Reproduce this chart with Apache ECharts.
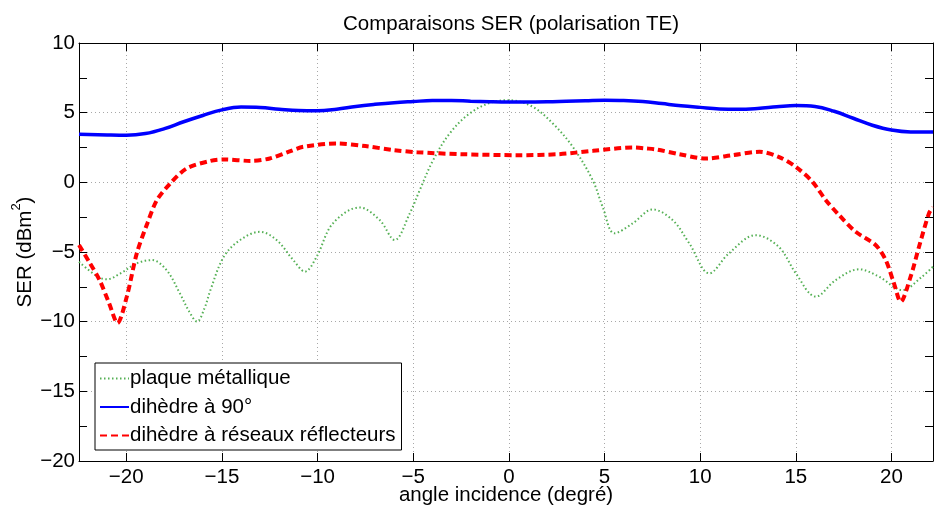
<!DOCTYPE html>
<html>
<head>
<meta charset="utf-8">
<script src="https://cdn.jsdelivr.net/npm/echarts@6/dist/echarts.min.js"></script>
<style>
html,body{margin:0;padding:0;background:#fff;}
#chart{width:934px;height:509px;}
</style>
</head>
<body>
<div id="chart"></div>
<script>
// ---- data ----
const plaqueX = [-22.47,-21.5,-21.0,-20.3,-19.45,-18.66,-17.9,-17.2,-16.7,-16.3,-15.9,-15.6,-14.9,-14.05,-13.0,-12.14,-11.27,-10.66,-10.05,-9.2,-7.8,-6.75,-5.97,-5.18,-4.66,-3.96,-3.1,-2.05,-0.83,0.04,1.26,2.3,3.34,4.38,4.9,5.52,6.47,7.52,8.56,9.43,10.48,11.5,12.9,14.1,15.0,16.04,17.1,18.3,19.35,20.56,21.6,22.17];
const plaqueY = [-5.7,-6.77,-6.96,-6.53,-5.81,-5.58,-6.29,-7.96,-9.3,-10.0,-9.0,-7.73,-5.34,-4.14,-3.55,-4.14,-5.58,-6.41,-5.34,-2.95,-1.8,-2.71,-4.14,-2.23,-0.56,1.59,3.5,4.94,5.77,5.89,5.41,4.22,2.55,0.16,-1.75,-3.66,-2.95,-1.95,-2.71,-4.38,-6.53,-5.1,-3.79,-4.62,-6.53,-8.2,-7.0,-6.24,-6.77,-7.73,-6.77,-6.05];

const dihedreX = [-22.47,-21,-20,-19,-18,-17,-16,-15,-14,-13,-12,-11,-10,-9,-8,-7,-6,-5,-4,-3,-2,-1,0,1,2,3,4,5,6,7,8,9,10,11,12,13,14,15,16,17,18,19,20,21,22.17];
const dihedreY = [3.45,3.4,3.38,3.5,3.85,4.35,4.8,5.2,5.4,5.37,5.25,5.15,5.13,5.25,5.45,5.6,5.72,5.8,5.87,5.88,5.82,5.78,5.76,5.77,5.78,5.82,5.86,5.9,5.88,5.8,5.65,5.5,5.38,5.27,5.24,5.3,5.42,5.52,5.45,5.1,4.6,4.1,3.75,3.62,3.62];

const reseauX = [-22.47,-21.9,-21.4,-20.9,-20.46,-19.97,-19.45,-18.9,-18.4,-17.7,-16.84,-15.6,-14.9,-13.5,-12.5,-11.5,-10.75,-9.0,-7.5,-6.0,-4.8,-2.5,0.5,2.6,4.4,6.5,7.2,7.7,8.9,10.3,11.7,13.1,14.1,15.0,15.87,16.57,17.26,18.13,19.17,19.7,20.13,20.48,21.0,21.44,21.96,22.17];
const reseauY = [-4.5,-5.8,-7.0,-8.66,-10.1,-8.2,-5.1,-2.95,-1.28,-0.08,1.0,1.54,1.64,1.54,1.71,2.2,2.55,2.79,2.6,2.31,2.16,2.02,1.95,2.02,2.26,2.5,2.43,2.36,2.02,1.71,1.95,2.19,1.83,1.11,0.04,-1.28,-2.35,-3.55,-4.5,-5.58,-7.25,-8.57,-6.77,-4.62,-2.23,-1.78];

const seriesNames = ['plaque métallique', 'dihèdre à 90°', 'dihèdre à réseaux réflecteurs'];
const xTicks = [-20,-15,-10,-5,0,5,10,15,20];
const yTicks = [-20,-15,-10,-5,0,5,10];

const zip = (xs, ys) => xs.map((x, i) => [x, ys[i]]);
const FONT = "'Liberation Sans', Arial, Helvetica, sans-serif";
const FS = 20.5;
const fmt = v => String(Math.round(v)).replace('-', '\u2212');

const chart = echarts.init(document.getElementById('chart'), null, {renderer: 'canvas'});
const gridLine = {show: true, lineStyle: {color: '#a8a8a8', type: [1, 3], width: 1}};
const axisLine = {show: true, onZero: false, lineStyle: {color: '#000', width: 1}};
const xTick = {show: true, inside: true, length: 8, customValues: xTicks, lineStyle: {color: '#000'}};
const yTick = {show: true, inside: true, length: 8, lineStyle: {color: '#000'}};

chart.setOption({
  animation: false,
  backgroundColor: '#fff',
  title: {
    text: 'Comparaisons SER (polarisation TE)',
    left: 506, top: 9, textAlign: 'center',
    textStyle: {fontFamily: FONT, fontSize: FS, fontWeight: 'normal', color: '#000'}
  },
  grid: {left: 79, right: 1, top: 43, bottom: 48, containLabel: false, outerBoundsMode: 'none'},
  legend: {
    orient: 'vertical', left: 95, top: 363,
    backgroundColor: '#fff', borderColor: '#000', borderWidth: 1,
    padding: [5, 6, 4, 4], itemGap: 7.5, itemWidth: 29, itemHeight: 20,
    itemStyle: {opacity: 0},
    data: seriesNames,
    textStyle: {fontFamily: FONT, fontSize: FS, color: '#000', padding: [0,0,0,-4]}
  },
  xAxis: [{
    type: 'value', min: -22.47, max: 22.17,
    position: 'bottom',
    axisLine: axisLine, axisTick: xTick, splitLine: gridLine,
    axisLabel: {customValues: xTicks, formatter: fmt, fontFamily: FONT, fontSize: FS, color: '#000', margin: 6},
    name: 'angle incidence (degré)', nameLocation: 'middle', nameGap: 24, nameMoveOverlap: false,
    nameTextStyle: {fontFamily: FONT, fontSize: FS, color: '#000'}
  }, {
    type: 'value', min: -22.47, max: 22.17,
    position: 'top',
    axisLine: axisLine, axisTick: xTick, splitLine: {show: false},
    axisLabel: {show: false}
  }],
  yAxis: [{
    type: 'value', min: -20, max: 10, interval: 5,
    position: 'left',
    axisLine: axisLine, axisTick: yTick, splitLine: gridLine,
    minorTick: {show: true, splitNumber: 2, length: 8, lineStyle: {color: '#000'}},
    axisLabel: {formatter: fmt, fontFamily: FONT, fontSize: FS, color: '#000', margin: 4},
    name: '{a|SER (dBm}{s|2}{a|)}', nameLocation: 'middle', nameGap: 43, nameRotate: 90, nameMoveOverlap: false,
    nameTextStyle: {
      fontFamily: FONT, fontSize: FS, color: '#000',
      rich: {
        a: {fontFamily: FONT, fontSize: FS, color: '#000', lineHeight: 26, verticalAlign: 'bottom'},
        s: {fontFamily: FONT, fontSize: 13, color: '#000', verticalAlign: 'top'}
      }
    }
  }, {
    type: 'value', min: -20, max: 10, interval: 5,
    position: 'right',
    axisLine: axisLine, axisTick: yTick, splitLine: {show: false},
    minorTick: {show: true, splitNumber: 2, length: 8, lineStyle: {color: '#000'}},
    axisLabel: {show: false}
  }],
  series: [{
    name: seriesNames[0], type: 'line', data: zip(plaqueX, plaqueY),
    symbol: 'none', smooth: 0.35, z: 2,
    lineStyle: {color: '#55b055', width: 2, type: [1.5, 2.5]},
    itemStyle: {color: '#55b055'}
  }, {
    name: seriesNames[1], type: 'line', data: zip(dihedreX, dihedreY),
    symbol: 'none', smooth: 0.4, z: 3,
    lineStyle: {color: '#0000ff', width: 3.5, type: 'solid'},
    itemStyle: {color: '#0000ff'}
  }, {
    name: seriesNames[2], type: 'line', data: zip(reseauX, reseauY),
    symbol: 'none', smooth: 0.3, z: 4,
    lineStyle: {color: '#ff0000', width: 4, type: [7, 4]},
    itemStyle: {color: '#ff0000'}
  }]
});
</script>
</body>
</html>
